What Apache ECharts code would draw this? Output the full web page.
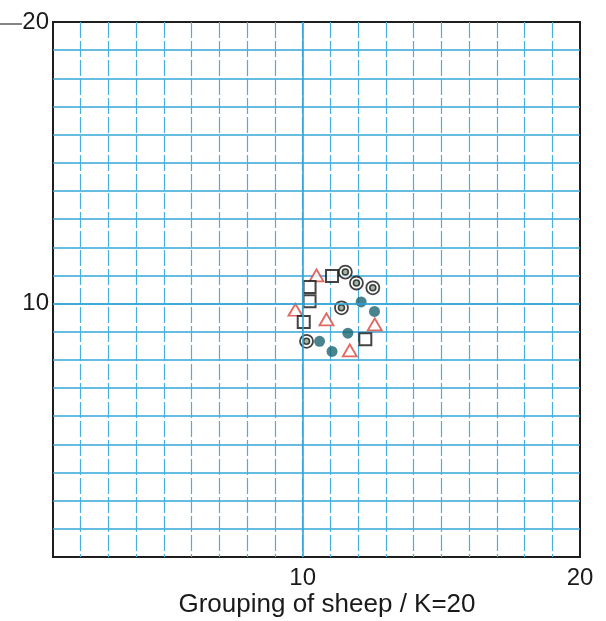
<!DOCTYPE html>
<html>
<head>
<meta charset="utf-8">
<script src="https://cdn.jsdelivr.net/npm/echarts@6/dist/echarts.min.js"></script>
<style>
  html, body { margin: 0; padding: 0; background: #fff; }
  #chart { width: 606px; height: 621px; }
</style>
</head>
<body>
<div id="chart"></div>
<script>
// Axis ranges and labelled ticks
const xRange = [1, 20];
const yRange = [1, 20];
const labelledTicks = [10, 20];

// Observations, [x, y]
const triangles = [[10.50, 11.00], [9.74, 9.78], [10.86, 9.44], [12.60, 9.26], [11.70, 8.34]];
const squares   = [[11.06, 10.98], [10.25, 10.59], [10.25, 10.08], [10.04, 9.35], [12.26, 8.73]];
const rings     = [[11.54, 11.12], [11.94, 10.73], [12.53, 10.56], [11.40, 9.85], [10.14, 8.66]];
const dots      = [[12.11, 10.06], [12.59, 9.72], [11.63, 8.95], [10.61, 8.66], [11.06, 8.30]];

const titleText = 'Grouping of sheep / K=20';

const blue = '#34a6d8';
const labelFont = { fontFamily: 'Liberation Sans, Arial, sans-serif', fontSize: 24, color: '#1a1a1a' };

function tickLabel(v) {
  return labelledTicks.indexOf(Math.round(v)) >= 0 && Math.abs(v - Math.round(v)) < 1e-6 ? String(Math.round(v)) : '';
}

const chart = echarts.init(document.getElementById('chart'), null, { renderer: 'canvas' });
chart.setOption({
  backgroundColor: '#fff',
  animation: false,
  title: {
    text: titleText,
    left: 322,
    top: 587,
    textAlign: 'center',
    textStyle: { fontFamily: 'Liberation Sans, Arial, sans-serif', fontSize: 26, fontWeight: 'normal', color: '#1a1a1a' }
  },
  grid: {
    left: 53, right: 26, top: 22, bottom: 64,
    show: true, borderColor: '#1e1e1e', borderWidth: 2, backgroundColor: 'transparent'
  },
  xAxis: {
    type: 'value', min: xRange[0], max: xRange[1], interval: 1,
    axisLine: { show: false }, axisTick: { show: false },
    axisLabel: Object.assign({ formatter: tickLabel, margin: 9 }, labelFont),
    splitLine: { show: true, showMinLine: false, showMaxLine: false,
      lineStyle: { color: '#48b0de', width: 1.2, type: [16, 3] } }
  },
  yAxis: {
    type: 'value', min: yRange[0], max: yRange[1], interval: 1,
    axisLine: { show: false }, axisTick: { show: false },
    axisLabel: Object.assign({ formatter: tickLabel, margin: 4 }, labelFont),
    splitLine: { show: true, showMinLine: false, showMaxLine: false,
      lineStyle: { color: blue, width: 1.6 } }
  },
  graphic: [{
    type: 'line', z: 10,
    shape: { x1: 0, y1: 24, x2: 22, y2: 24 },
    style: { stroke: '#333', lineWidth: 1.2 }
  }],
  series: [
    {
      type: 'scatter', data: triangles, symbol: 'triangle', symbolSize: [14, 12],
      itemStyle: { color: '#fff', borderColor: '#d8443a', borderWidth: 1.8 },
      markLine: {
        silent: true, symbol: 'none', label: { show: false },
        lineStyle: { color: blue, width: 1.6, type: 'solid' },
        data: [{ xAxis: 10 }, { yAxis: 10 }]
      },
      z: 3
    },
    {
      type: 'scatter', data: squares, symbol: 'rect', symbolSize: 12,
      itemStyle: { color: '#fff', borderColor: '#141414', borderWidth: 2 },
      z: 3
    },
    {
      type: 'scatter', data: rings, symbol: 'circle', symbolSize: 13,
      itemStyle: { color: '#fff', borderColor: '#141414', borderWidth: 1.8 },
      z: 3
    },
    {
      type: 'scatter', data: rings, symbol: 'circle', symbolSize: 6,
      itemStyle: { color: '#8aa58a', borderColor: '#141414', borderWidth: 1.6 },
      z: 4
    },
    {
      type: 'scatter', data: dots, symbol: 'circle', symbolSize: 11,
      itemStyle: { color: '#1c6470' },
      z: 3
    }
  ]
});
</script>
</body>
</html>
